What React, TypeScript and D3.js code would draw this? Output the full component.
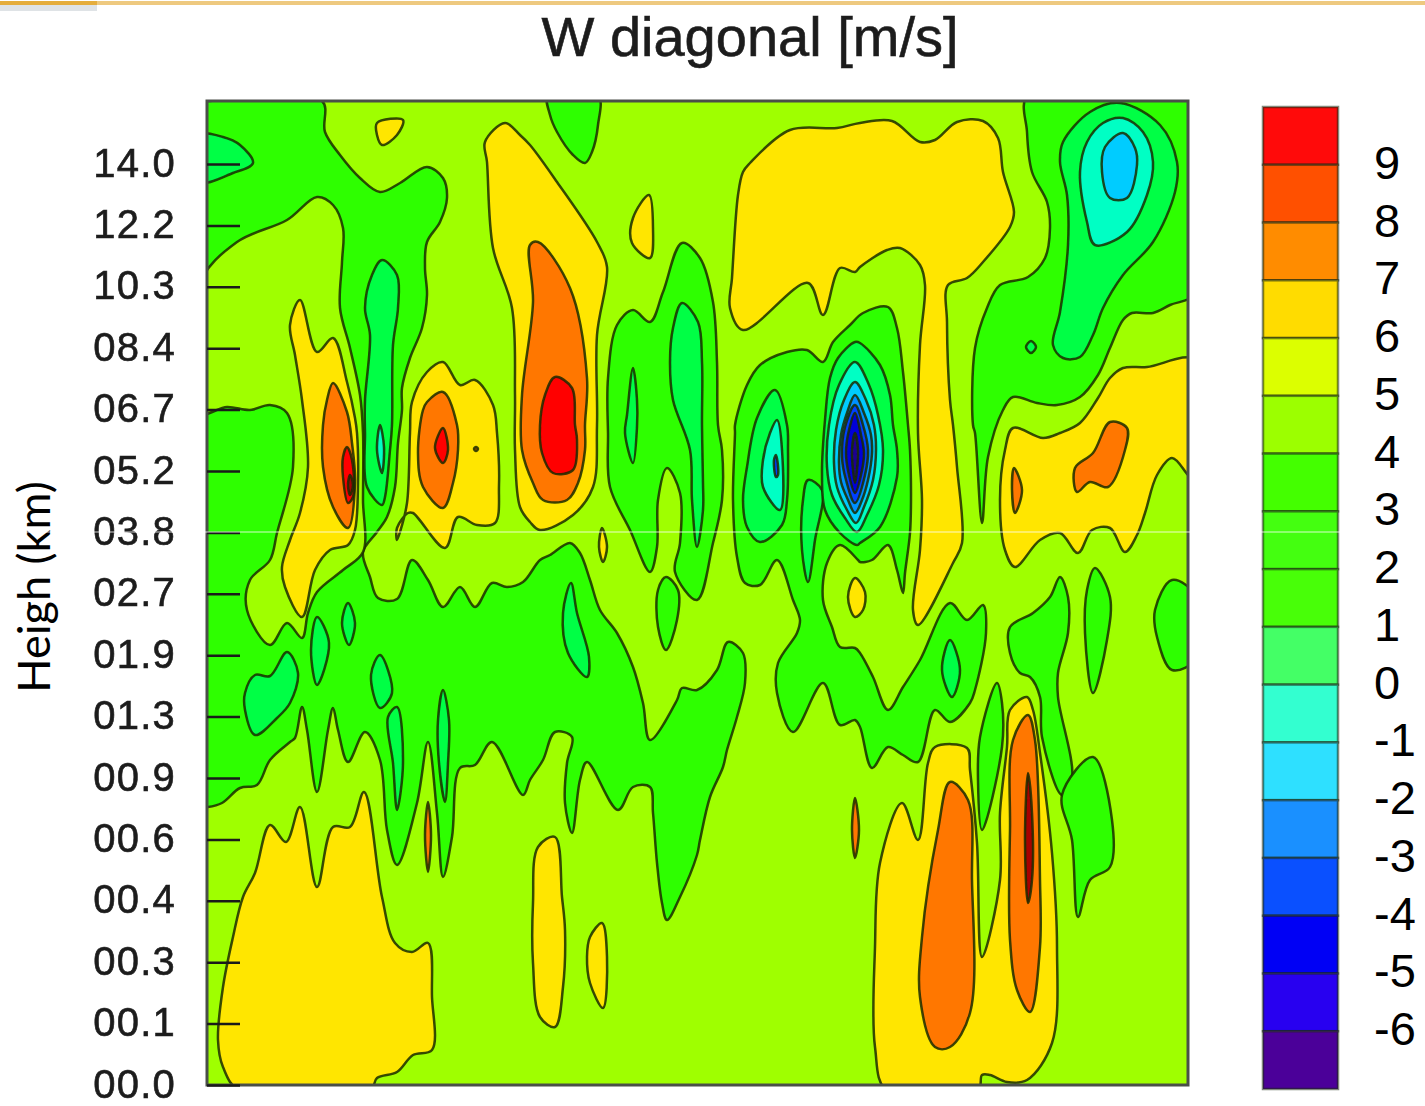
import React, { useEffect, useRef } from "react";
import * as d3 from "d3";

type Ring = [number, number][];

const heightLabels = ["00.0", "00.1", "00.3", "00.4", "00.6", "00.9", "01.3", "01.9", "02.7", "03.8", "05.2", "06.7", "08.4", "10.3", "12.2", "14.0"];
const barLevels = [9, 8, 7, 6, 5, 4, 3, 2, 1, 0, -1, -2, -3, -4, -5, -6, -7];
const barColours = ["#ff0a0a", "#ff5000", "#ff8c00", "#ffdc00", "#dcff00", "#9cff00", "#44ff00", "#44ff10", "#48ff08", "#44ff66", "#33ffd0", "#2ee0ff", "#1a90ff", "#0a50ff", "#0000f5", "#2800f0", "#4b0099"];

// contours, x and y in grid steps along the section
const greenRings: Ring[] = [
  [[0,984],[115,984],[118,953],[133,930],[153,907],[173,893],[193,902],[220,918],[236,907],[240,887],[233,863],[220,843],[218,817],[220,790],[215,757],[203,727],[195,697],[195,675],[191,642],[188,598],[180,568],[170,553],[156,533],[163,508],[171,487],[190,486],[205,525],[221,505],[236,478],[253,498],[268,478],[285,502],[300,498],[316,503],[333,525],[343,530],[363,542],[373,532],[383,505],[393,475],[410,452],[426,418],[436,382],[443,345],[470,385],[475,397],[490,395],[510,415],[521,443],[536,432],[538,402],[530,368],[520,335],[516,318],[503,288],[493,245],[490,230],[473,188],[460,165],[455,182],[450,222],[446,272],[443,298],[426,298],[411,275],[380,323],[373,305],[365,252],[358,282],[360,322],[365,348],[348,353],[336,325],[323,305],[316,290],[285,343],[268,320],[253,317],[245,248],[236,208],[230,272],[221,343],[210,282],[190,220],[180,255],[173,325],[158,353],[141,323],[131,355],[126,377],[121,355],[110,293],[100,355],[95,378],[88,347],[83,343],[63,325],[50,300],[33,297],[15,282],[1,278],[-8,278],[-8,984]],
  [[341,990],[391,990],[391,960],[385,933],[378,922],[366,930],[350,953],[343,970]],
  [[410,760],[426,775],[443,763],[456,793],[475,842],[493,827],[506,783],[510,723],[511,660],[515,635],[515,585],[506,542],[490,485],[468,513],[473,542],[473,592],[460,617],[451,585],[450,538],[443,513],[423,555],[403,598],[401,652],[401,707]],
  [[528,660],[540,700],[553,720],[580,733],[600,735],[616,723],[626,743],[643,760],[656,772],[681,778],[690,757],[696,713],[701,660],[703,635],[704,585],[703,552],[698,512],[696,492],[690,515],[681,540],[665,525],[653,523],[651,525],[633,540],[620,522],[616,485],[625,458],[633,438],[648,437],[653,432],[666,408],[681,375],[696,398],[713,425],[743,482],[760,465],[776,480],[779,452],[768,395],[763,382],[743,363],[728,375],[711,323],[696,330],[681,338],[665,317],[653,358],[648,365],[633,360],[616,402],[586,353],[570,392],[571,422],[590,452],[593,465],[586,485],[570,525],[553,500],[538,502],[530,528],[526,585],[528,652]],
  [[821,990],[820,953],[825,913],[840,883],[843,857],[838,827],[821,808],[793,800],[780,777],[768,737],[766,660],[768,652],[775,562],[781,628],[796,675],[806,688],[830,682],[850,680],[873,688],[891,710],[903,737],[916,765],[925,772],[946,772],[963,780],[990,793],[990,990]],
  [[459,508],[471,495],[470,465],[459,435],[451,458],[451,495]],
  [[853,508],[861,488],[861,452],[851,412],[851,388],[865,307],[855,290],[835,348],[833,388],[823,408],[813,412],[803,432],[803,458],[826,472],[843,488]],
  [[886,328],[905,265],[903,218],[883,205],[871,168],[865,245],[855,290]],
  [[888,517],[903,488],[900,445],[886,392],[878,452],[880,495]],
  [[965,505],[990,488],[990,427],[965,415],[950,448],[948,475]],
  [[790,402],[795,382],[795,338],[775,255],[771,305],[773,348]],
];

const limeHoles: Ring[] = [
  [[-8,800],[30,843],[80,865],[110,888],[126,880],[136,857],[135,823],[133,777],[143,737],[153,690],[156,652],[156,585],[156,533],[136,515],[110,493],[101,472],[95,447],[80,462],[63,440],[40,475],[43,505],[63,525],[70,552],[86,618],[80,672],[63,680],[43,675],[20,678],[-8,672]],
];

const brightRings: Ring[] = [
  [[-8,950],[16,948],[33,940],[46,922],[26,912],[-8,903]],
  [[175,825],[190,810],[191,777],[186,740],[185,660],[183,635],[178,588],[175,580],[160,598],[158,652],[158,685],[163,750],[158,777],[165,810]],
  [[475,782],[491,763],[495,723],[495,660],[496,602],[496,575],[490,538],[485,585],[483,635],[466,685],[463,723],[466,757]],
  [[426,717],[420,670],[418,652],[426,622],[430,658],[430,685]],
  [[568,695],[580,660],[581,635],[580,585],[575,560],[553,543],[540,558],[536,585],[540,618],[550,667]],
  [[601,605],[615,595],[608,545],[601,503],[595,535],[596,585]],
  [[623,707],[631,727],[648,743],[653,742],[673,720],[683,690],[686,660],[690,635],[690,608],[673,558],[653,542],[650,540],[633,552],[618,575],[615,612],[618,665]],
  [[883,973],[913,982],[953,960],[970,923],[968,893],[946,843],[916,810],[896,777],[886,750],[873,728],[856,727],[846,740],[853,773],[861,840],[860,890],[853,923],[856,943]],
  [[824,744],[829,738],[824,732],[819,738]],
  [[364,502],[370,472],[382,428],[380,408],[361,432],[356,472]],
  [[141,482],[148,462],[142,440],[135,462]],
  [[110,468],[122,442],[110,400],[104,435]],
  [[80,433],[91,412],[83,382],[70,367],[48,350],[38,375],[38,392],[48,410],[63,409]],
  [[173,430],[185,392],[173,377],[164,410]],
  [[190,378],[196,322],[190,275],[186,322],[181,368]],
  [[236,395],[242,365],[241,322],[238,283],[232,322],[231,365]],
  [[743,445],[753,415],[745,388],[735,415]],
];

const tealRings: Ring[] = [
  [[173,660],[177,638],[175,612],[170,635]],
  [[570,665],[575,635],[573,575],[556,598],[556,625],[563,652]],
  [[648,723],[662,700],[671,670],[676,635],[672,600],[660,570],[650,553],[638,567],[625,590],[620,618],[622,660],[632,700]],
  [[916,967],[936,953],[946,923],[940,890],[920,853],[888,840],[880,863],[873,913],[880,943],[896,962]],
];

const cyanRings: Ring[] = [
  [[916,952],[928,937],[930,920],[920,887],[903,887],[895,913],[898,938]],
  [[648,703],[659,685],[667,660],[669,635],[666,605],[657,578],[649,562],[640,575],[630,598],[627,622],[629,655],[637,685]],
];

const blueRings: Ring[] = [
  [[648,690],[657,672],[664,650],[665,632],[661,605],[655,585],[648,572],[641,585],[634,603],[632,622],[634,650],[640,672]],
];
const royalRings: Ring[] = [
  [[648,680],[656,660],[661,635],[658,610],[648,582],[639,605],[635,628],[638,658]],
  [[569,630],[571,610],[569,608],[567,625]],
];
const deepBlueRings: Ring[] = [
  [[648,672],[654,650],[657,632],[654,610],[648,592],[642,610],[639,632],[642,655]],
];
const indigoRings: Ring[] = [
  [[648,652],[651,635],[650,615],[648,602],[646,615],[645,635]],
];

const yellowRings: Ring[] = [
  [[170,962],[196,965],[190,950],[175,940],[170,950]],
  [[93,785],[110,733],[126,747],[140,703],[148,667],[150,652],[151,602],[148,555],[141,540],[123,535],[108,515],[95,468],[78,498],[75,518],[83,545],[93,572],[101,618],[95,685],[88,730],[83,760]],
  [[205,683],[220,713],[236,723],[253,700],[268,705],[286,680],[290,652],[292,600],[288,562],[270,560],[251,568],[238,537],[206,572],[201,572],[190,557],[190,545],[193,553],[200,582],[203,652]],
  [[323,940],[350,903],[390,843],[400,818],[390,750],[390,660],[386,598],[366,570],[333,555],[323,563],[313,578],[308,635],[308,690],[305,777],[286,837],[280,923],[278,943],[298,962],[313,950]],
  [[442,890],[446,857],[443,827],[425,842],[426,867]],
  [[536,913],[543,922],[583,955],[630,957],[653,962],[685,964],[713,943],[728,945],[750,963],[776,964],[791,947],[796,913],[807,873],[803,858],[776,823],[760,807],[741,800],[740,763],[743,685],[746,660],[750,618],[755,542],[746,522],[711,460],[706,475],[713,535],[715,585],[711,652],[713,740],[718,800],[713,820],[693,837],[680,835],[653,818],[648,813],[633,817],[616,770],[601,802],[536,755],[523,777],[525,807],[531,890]],
  [[395,557],[400,538],[396,523],[392,538]],
  [[648,507],[658,493],[656,475],[648,468],[641,488]],
  [[806,657],[836,647],[853,652],[873,662],[891,687],[903,707],[916,717],[940,718],[990,725],[990,600],[981,610],[965,627],[950,610],[938,572],[930,550],[918,533],[903,557],[885,555],[871,532],[853,552],[833,545],[808,518],[798,535],[793,585],[798,635]],
  [[33,-6],[16,18],[11,45],[16,98],[26,148],[36,188],[48,212],[63,260],[79,243],[93,278],[110,198],[126,258],[143,258],[157,293],[175,188],[188,142],[205,133],[221,142],[225,88],[225,35],[206,30],[190,13],[170,7],[163,-6]],
  [[348,248],[355,188],[358,155],[356,98],[348,58],[333,68],[326,122],[326,182],[331,238]],
  [[395,162],[400,128],[396,77],[383,102],[380,128],[383,148]],
  [[728,338],[760,337],[763,315],[770,242],[775,128],[793,205],[793,272],[800,338],[803,375],[820,388],[826,375],[833,332],[845,232],[850,138],[845,42],[820,5],[800,3],[783,10],[775,10],[771,-6],[680,-6],[668,38],[668,138],[673,222],[695,282],[711,245],[721,322]],
];

const orangeRings: Ring[] = [
  [[126,702],[140,673],[145,642],[148,602],[141,557],[126,578],[116,618],[116,660],[120,685]],
  [[220,683],[236,693],[250,660],[251,635],[246,602],[236,577],[216,598],[211,632],[216,675]],
  [[323,840],[331,843],[363,797],[380,707],[378,660],[378,635],[371,602],[360,585],[336,585],[326,602],[315,635],[315,690],[326,783]],
  [[221,283],[224,250],[221,213],[218,250]],
  [[648,287],[652,255],[648,227],[645,255]],
  [[269,638],[271,636],[269,634],[267,636]],
  [[903,663],[920,657],[918,635],[901,598],[883,603],[870,593],[868,617],[886,632]],
  [[807,617],[815,595],[808,572],[805,595]],
  [[743,303],[761,285],[765,205],[763,72],[743,38],[728,38],[713,88],[715,148],[731,255]],
  [[821,370],[828,345],[833,205],[833,138],[823,73],[810,95],[803,145],[803,255],[806,345]],
];

const redRings: Ring[] = [
  [[140,638],[145,625],[146,588],[141,582],[136,608],[136,628]],
  [[236,657],[241,635],[236,622],[228,637]],
  [[348,708],[365,697],[368,660],[370,645],[366,615],[346,612],[335,632],[333,660],[338,690]],
];

const darkRedRings: Ring[] = [
  [[143,610],[146,600],[143,590],[141,600]],
  [[821,312],[825,272],[825,205],[821,182],[818,245]],
];

const layers: [Ring[], string][] = [
  [greenRings, "#2fff00"],
  [limeHoles, "#9fff00"],
  [brightRings, "#00ff44"],
  [tealRings, "#00ffc4"],
  [cyanRings, "#00ccff"],
  [blueRings, "#0090ff"],
  [royalRings, "#0040ff"],
  [deepBlueRings, "#0000d8"],
  [indigoRings, "#1c0090"],
  [yellowRings, "#ffe600"],
  [orangeRings, "#ff7700"],
  [redRings, "#ff0000"],
  [darkRedRings, "#a80000"],
];

const x = d3.scaleLinear().domain([0, 981]).range([207, 1188]);
const y = d3.scaleLinear().domain([0, 984]).range([1085, 101]);

export default function App() {
  const ref = useRef<SVGSVGElement>(null);

  useEffect(() => {
    const svg = d3.select(ref.current);
    svg.selectAll("*").remove();

    const defs = svg.append("defs");
    defs.append("filter").attr("id", "soft").append("feGaussianBlur").attr("stdDeviation", 0.7);
    defs.append("filter").attr("id", "softText").append("feGaussianBlur").attr("stdDeviation", 0.45);
    defs.append("clipPath").attr("id", "plot").append("rect")
      .attr("x", x(0)).attr("y", y(984)).attr("width", x(981) - x(0)).attr("height", y(0) - y(984));

    // slide strip along the top
    svg.append("rect").attr("x", 0).attr("y", 1).attr("width", 1425).attr("height", 4).attr("fill", "#eec97f");
    svg.append("rect").attr("x", 0).attr("y", 1).attr("width", 97).attr("height", 4).attr("fill", "#e5ad3c");
    svg.append("rect").attr("x", 0).attr("y", 5).attr("width", 97).attr("height", 6).attr("fill", "#dfe3e6");

    const line = d3.line().x((d) => x(d[0])).y((d) => y(d[1])).curve(d3.curveCatmullRomClosed.alpha(0.5));

    const plot = svg.append("g").attr("clip-path", "url(#plot)").append("g").attr("filter", "url(#soft)");
    plot.append("rect")
      .attr("x", x(0)).attr("y", y(984)).attr("width", x(981) - x(0)).attr("height", y(0) - y(984))
      .attr("fill", "#9fff00");

    layers.forEach(([rings, colour]) => {
      plot.selectAll(null).data(rings).enter().append("path")
        .attr("d", (d) => line(d))
        .attr("fill", colour)
        .attr("stroke", "#1a2c00")
        .attr("stroke-width", 2.5)
        .attr("stroke-opacity", 0.85)
        .attr("stroke-linejoin", "round");
    });

    svg.append("rect")
      .attr("x", x(0)).attr("y", y(984)).attr("width", x(981) - x(0)).attr("height", y(0) - y(984))
      .attr("fill", "none").attr("stroke", "#4a4f48").attr("stroke-width", 3);

    const axis = d3.axisLeft(d3.scalePoint().domain(heightLabels).range([1085, 164])).tickSize(-33).tickPadding(31);
    const axisG = svg.append("g").attr("transform", `translate(${x(0)},0)`).call(axis);
    axisG.select(".domain").remove();
    axisG.selectAll("line").attr("stroke", "#1a1a1a").attr("stroke-width", 2.5);
    axisG.selectAll("text")
      .attr("font-family", "Liberation Sans").attr("font-size", 40).attr("letter-spacing", 1.2)
      .attr("dy", "0.3em").attr("fill", "#1c1c1c").attr("stroke", "#1c1c1c").attr("stroke-width", 0.6)
      .attr("filter", "url(#softText)");

    svg.append("text").text("W diagonal [m/s]")
      .attr("x", 750).attr("y", 56).attr("text-anchor", "middle")
      .attr("font-family", "Liberation Sans").attr("font-size", 56).attr("fill", "#1c1c1c")
      .attr("stroke", "#1c1c1c").attr("stroke-width", 0.6)
      .attr("filter", "url(#softText)");

    svg.append("text").text("Heigh (km)")
      .attr("transform", "translate(50,587) rotate(-90)").attr("text-anchor", "middle")
      .attr("font-family", "Lato").attr("font-size", 45).attr("fill", "#000");

    // colour bar
    const bar = d3.scaleBand().domain(barLevels.map(String)).range([107, 1089]);
    const barG = svg.append("g");
    barG.selectAll("rect").data(barLevels).enter().append("rect")
      .attr("x", 1263).attr("width", 75)
      .attr("y", (d) => bar(String(d)))
      .attr("height", bar.bandwidth())
      .attr("fill", (_, i) => barColours[i])
      .attr("stroke", "#1c2a10").attr("stroke-opacity", 0.55).attr("stroke-width", 2.5);

    svg.selectAll(null).data(barLevels.slice(0, -1)).enter().append("text")
      .text((d) => d)
      .attr("x", 1374)
      .attr("y", (d) => bar(String(d)) + bar.bandwidth() + 14)
      .attr("font-family", "Liberation Sans").attr("font-size", 47).attr("fill", "#000");

    // seam in the pasted image
    svg.append("line").attr("x1", 0).attr("x2", 1425).attr("y1", y(553)).attr("y2", y(553))
      .attr("stroke", "#fff").attr("stroke-opacity", 0.8).attr("stroke-width", 1);
  }, []);

  return (
    <svg ref={ref} width={1425} height={1106} style={{ position: "absolute", left: 0, top: 0, display: "block", background: "#fff" }} />
  );
}
